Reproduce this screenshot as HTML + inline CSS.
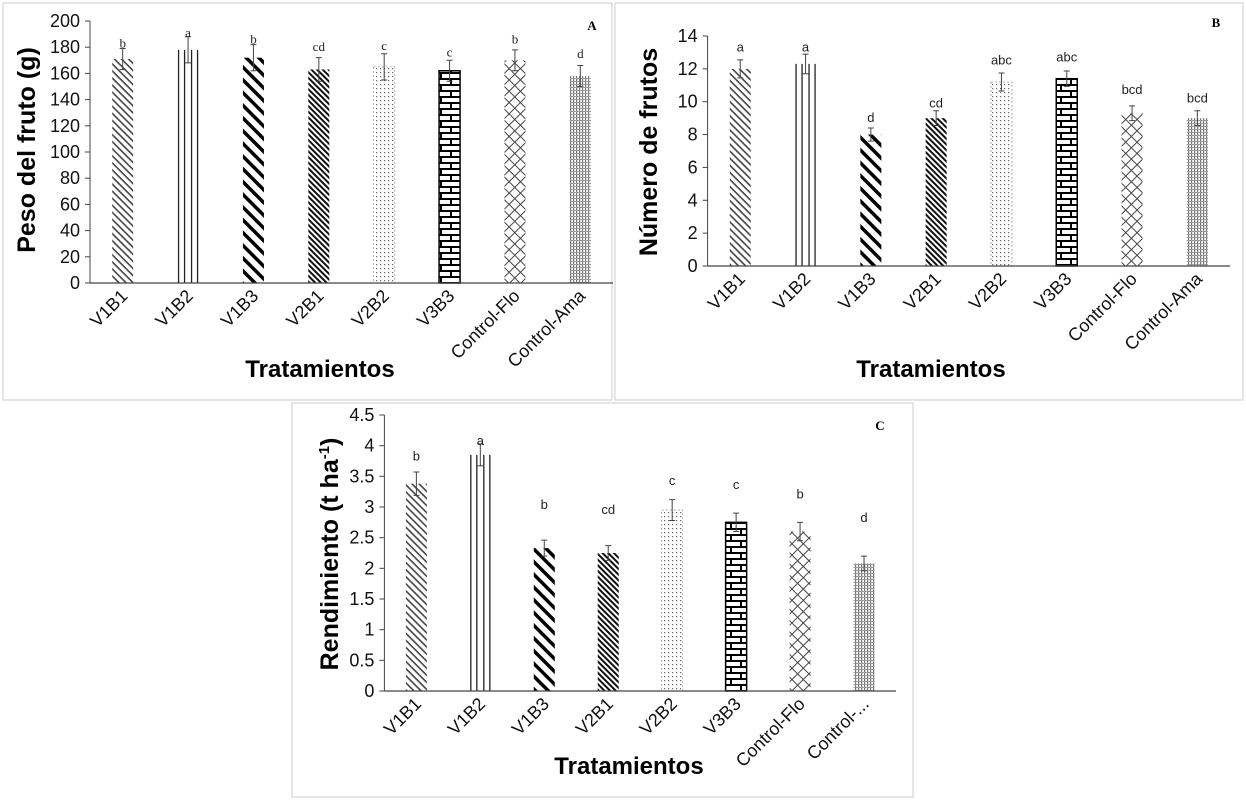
<!DOCTYPE html>
<html><head><meta charset="utf-8"><style>
html,body{margin:0;padding:0;background:#fff}
svg{display:block}
text{font-family:"Liberation Sans",sans-serif}
.serif{font-family:"Liberation Serif",serif}
</style></head><body>
<svg id="fig" width="1246" height="800" viewBox="0 0 1246 800" xmlns="http://www.w3.org/2000/svg">
<defs>
<pattern id="p0" width="5" height="5" patternUnits="userSpaceOnUse" patternTransform="rotate(45)"><rect width="5" height="5" fill="#fff"/><rect width="5" height="1.6" fill="#444"/></pattern>
<pattern id="p1" width="21" height="10" patternUnits="userSpaceOnUse"><rect width="21" height="10" fill="#fff"/></pattern>
<pattern id="p2" width="9" height="9" patternUnits="userSpaceOnUse" patternTransform="rotate(45)"><rect width="9" height="9" fill="#fff"/><rect width="9" height="3.5" fill="#000"/></pattern>
<pattern id="p3" width="4" height="4" patternUnits="userSpaceOnUse" patternTransform="rotate(45)"><rect width="4" height="4" fill="#fff"/><rect width="4" height="2" fill="#111"/></pattern>
<pattern id="p4" width="4" height="4" patternUnits="userSpaceOnUse"><rect width="4" height="4" fill="#fff"/><rect width="1.2" height="1.2" fill="#666"/></pattern>
<pattern id="p5" width="20" height="12" patternUnits="userSpaceOnUse"><rect width="20" height="12" fill="#fff"/><rect y="0" width="20" height="2" fill="#000"/><rect y="6" width="20" height="2" fill="#000"/><rect x="0" y="0" width="2" height="6" fill="#000"/><rect x="10" y="6" width="2" height="6" fill="#000"/></pattern>
<pattern id="p6" width="8" height="8" patternUnits="userSpaceOnUse" patternTransform="rotate(45)"><rect width="8" height="8" fill="#fff"/><rect width="8" height="1" fill="#444"/><rect width="1" height="8" fill="#444"/></pattern>
<pattern id="p7" width="3" height="3" patternUnits="userSpaceOnUse"><rect width="3" height="3" fill="#fff"/><rect width="1.2" height="3" fill="#777"/><rect width="3" height="1" fill="#999"/></pattern>
</defs>
<rect x="3" y="3" width="609" height="397" fill="none" stroke="#ccc"/>
<rect x="615" y="3" width="628" height="397" fill="none" stroke="#ccc"/>
<rect x="292" y="403" width="621" height="394" fill="none" stroke="#ccc"/>
</svg>
<script>
const categories = ["V1B1","V1B2","V1B3","V2B1","V2B2","V3B3","Control-Flo","Control-Ama"];
const categoriesC = ["V1B1","V1B2","V1B3","V2B1","V2B2","V3B3","Control-Flo","Control-..."];
const valuesA = [171,178,172,163,165,162,170,158];
const errorsA = [8,10,10,9,10,8,8,8];
const lettersA = ["b","a","b","cd","c","c","b","d"];
const letterPosA = [183,191,186,180,181,176,186,175];
const ticksA = [0,20,40,60,80,100,120,140,160,180,200];
const valuesB = [12,12.3,8,9,11.2,11.4,9.3,9.0];
const errorsB = [0.55,0.6,0.4,0.45,0.55,0.47,0.45,0.45];
const lettersB = ["a","a","d","cd","abc","abc","bcd","bcd"];
const letterPosB = [13.3,13.3,9.0,9.9,12.5,12.7,10.7,10.2];
const ticksB = [0,2,4,6,8,10,12,14];
const valuesC = [3.38,3.85,2.33,2.25,2.95,2.75,2.6,2.08];
const errorsC = [0.19,0.18,0.13,0.12,0.17,0.15,0.15,0.12];
const lettersC = ["b","a","b","cd","c","c","b","d"];
const letterPosC = [3.82,4.08,3.03,2.95,3.42,3.36,3.2,2.82];
const ticksC = [0,0.5,1,1.5,2,2.5,3,3.5,4,4.5];

const svg = document.getElementById('fig');
const NS = 'http://www.w3.org/2000/svg';
function mk(tag, attrs, txt){const e=document.createElementNS(NS,tag);for(const k in attrs)e.setAttribute(k,attrs[k]);if(txt!==undefined)e.textContent=txt;svg.appendChild(e);return e;}

function panel(o){
  const y = v => o.y0 - (v - o.vmin)/(o.vmax-o.vmin)*(o.y0-o.y1);
  const step = (o.x1-o.x0)/o.cats.length;
  const x = i => o.x0 + step*(i+0.5);
  const bw = 21;
  let e = mk('line',{x1:o.x0,y1:y(o.vmax),x2:o.x0,y2:o.y0,stroke:'#444','stroke-width':1});
  
  
  o.ticks.forEach(t=>{
    let tk = mk('line',{x1:o.x0-5,y1:y(t),x2:o.x0,y2:y(t),stroke:'#444'});
    
    
    let tl = mk('text',{x:o.x0-10,y:y(t)+6,'text-anchor':'end','font-size':18,fill:'#111'},String(t));
    
    
  });
  o.vals.forEach((v,i)=>{
    const cx = x(i);
    let b = mk('rect',{x:cx-bw/2,y:y(v),width:bw,height:o.y0-y(v),fill:'url(#p'+i+')'});
    
    
    if(i===1){
      [cx-bw/2+1,cx-3.5,cx+3.5,cx+bw/2-1].forEach(lx=>{
        let l = mk('line',{x1:lx,y1:y(v),x2:lx,y2:o.y0,stroke:'#222','stroke-width':1.3});
        
        
      });
    }
    if(i===4 || i===5){
      let bd = mk('rect',{x:cx-bw/2,y:y(v),width:bw,height:o.y0-y(v),fill:'none',stroke:i===5?'#000':'#999','stroke-dasharray':i===5?'none':'2,2','stroke-width':i===5?1.5:0.8});
      
      
    }
    const top=y(v+o.errs[i]), bot=y(v-o.errs[i]);
    let eb = mk('path',{d:`M${cx},${top}V${bot}M${cx-3},${top}H${cx+3}M${cx-3},${bot}H${cx+3}`,stroke:'#444','stroke-width':1,fill:'none'});
    
    
    let lt = mk('text',{x:cx,y:y(o.lpos[i])+4,'text-anchor':'middle','font-size':o.lfs,fill:'#222',class:o.lcls},o.letters[i]);
    
    
    let xl = mk('text',{x:cx+6,y:o.y0+14,'text-anchor':'end','font-size':18,fill:'#111',transform:`rotate(-45 ${cx+6} ${o.y0+14})`},o.cats[i]);
    
    
  });
  e = mk('line',{x1:o.x0,y1:o.y0,x2:o.x1,y2:o.y0,stroke:'#444','stroke-width':1.3});
  
  
  let yt = mk('text',{x:0,y:0,'text-anchor':'middle','font-size':25,'font-weight':'bold',fill:'#000',transform:`translate(${o.ytx},${o.yty}) rotate(-90)`});
  yt.innerHTML = o.ytitle;
  
  
  let xt = mk('text',{x:o.xtx,y:o.xty,'text-anchor':'middle','font-size':24,'font-weight':'bold',fill:'#000'},'Tratamientos');
  
  
  let pl = mk('text',{x:o.plx,y:o.ply,'text-anchor':'middle','font-size':13,'font-weight':'bold',fill:'#000',class:'serif'},o.plabel);
  
  
}

panel({id:'panel-a',x0:90,x1:613,y0:283,y1:21,vmin:0,vmax:200,cats:categories,vals:valuesA,errs:errorsA,letters:lettersA,lpos:letterPosA,ticks:ticksA,lfs:13,lcls:'serif',
  ytitle:'Peso del fruto (g)',ytx:35,yty:150,xtx:320,xty:377,plabel:'A',plx:592,ply:30});
panel({id:'panel-b',x0:707.6,x1:1230,y0:266,y1:36,vmin:0,vmax:14,cats:categories,vals:valuesB,errs:errorsB,letters:lettersB,lpos:letterPosB,ticks:ticksB,lfs:13,lcls:'',
  ytitle:'Número de frutos',ytx:657,yty:152,xtx:931,xty:377,plabel:'B',plx:1216,ply:27});
panel({id:'panel-c',x0:384.4,x1:896,y0:691,y1:415,vmin:0,vmax:4.5,cats:categoriesC,vals:valuesC,errs:errorsC,letters:lettersC,lpos:letterPosC,ticks:ticksC,lfs:13,lcls:'',
  ytitle:'Rendimiento (t ha<tspan font-size="15" dy="-9">-1</tspan><tspan dy="9">)</tspan>',ytx:338,yty:554,xtx:629,xty:774,plabel:'C',plx:880,ply:430});
</script>
</body></html>
